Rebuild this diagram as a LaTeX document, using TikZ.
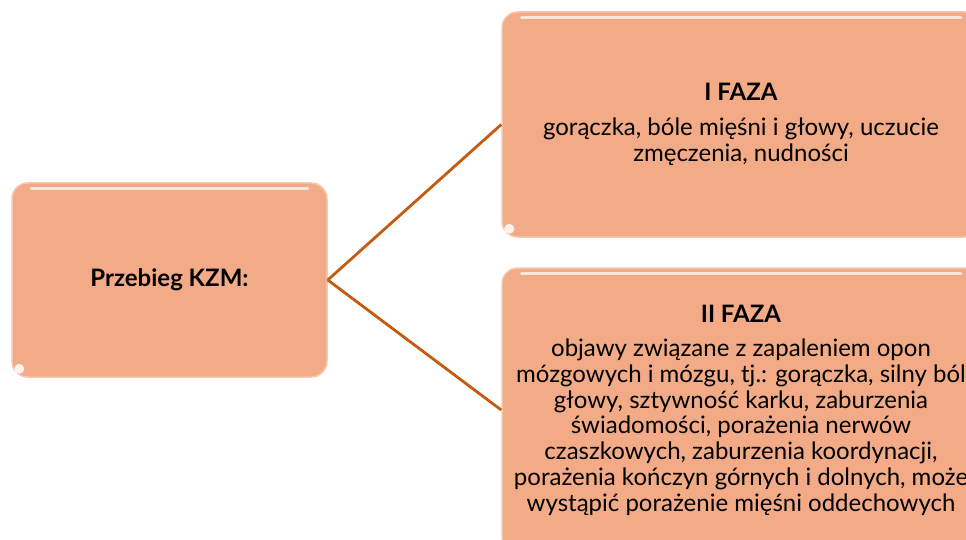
\documentclass[tikz,border=0pt]{standalone}
\usepackage{fontspec}
\setmainfont{Lato}
\definecolor{boxfill}{HTML}{F2AB86}
\definecolor{boxedge}{HTML}{F8C6AB}
\definecolor{linkcol}{HTML}{C55A11}
\begin{document}
\begin{tikzpicture}[x=1pt,y=1pt,
  stagebox/.style={draw=boxedge, line width=1.5pt, fill=boxfill, rounded corners=16pt,
    inner sep=0pt, align=center, font=\fontsize{24}{25.7}\selectfont},
  link/.style={draw=linkcol, line width=2.8pt},
  gloss/.style={draw=white, draw opacity=0.7, line width=3pt, line cap=round}]
\useasboundingbox (0,0) rectangle (966,539);
\clip (0,0) rectangle (966,539);

\node[stagebox, minimum width=315pt, minimum height=194pt] (root) at (169.5,259)
  {\textbf{Przebieg KZM:}};
\node[stagebox, minimum width=478pt, minimum height=225pt] (phase1) at (741,414.5)
  {\textbf{I FAZA}\\[9pt]
   gorączka, bóle mięśni i głowy, uczucie\\
   zmęczenia, nudności};
\node[stagebox, minimum width=478pt, minimum height=284pt] (phase2) at (741,129)
  {\textbf{II FAZA}\\[9pt]
   objawy związane z zapaleniem opon\\
   mózgowych i mózgu, tj.: gorączka, silny ból\\
   głowy, sztywność karku, zaburzenia\\
   świadomości, porażenia nerwów\\
   czaszkowych, zaburzenia koordynacji,\\
   porażenia kończyn górnych i dolnych, może\\
   wystąpić porażenie mięśni oddechowych};

% glossy highlights
\draw[gloss] ([xshift=20pt,yshift=-6pt]root.north west) -- ([xshift=-20pt,yshift=-6pt]root.north east);
\draw[gloss] ([xshift=20pt,yshift=-6pt]phase1.north west) -- ([xshift=-20pt,yshift=-6pt]phase1.north east);
\draw[gloss] ([xshift=20pt,yshift=-6pt]phase2.north west) -- ([xshift=-20pt,yshift=-6pt]phase2.north east);
\fill[white, opacity=0.85] ([xshift=8pt,yshift=9pt]root.south west) ellipse (5pt and 5pt);
\fill[white, opacity=0.85] ([xshift=8pt,yshift=9pt]phase1.south west) ellipse (5pt and 5pt);

\draw[link] (root.east) -- (phase1.west);
\draw[link] (root.east) -- (phase2.west);
\end{tikzpicture}
\end{document}
